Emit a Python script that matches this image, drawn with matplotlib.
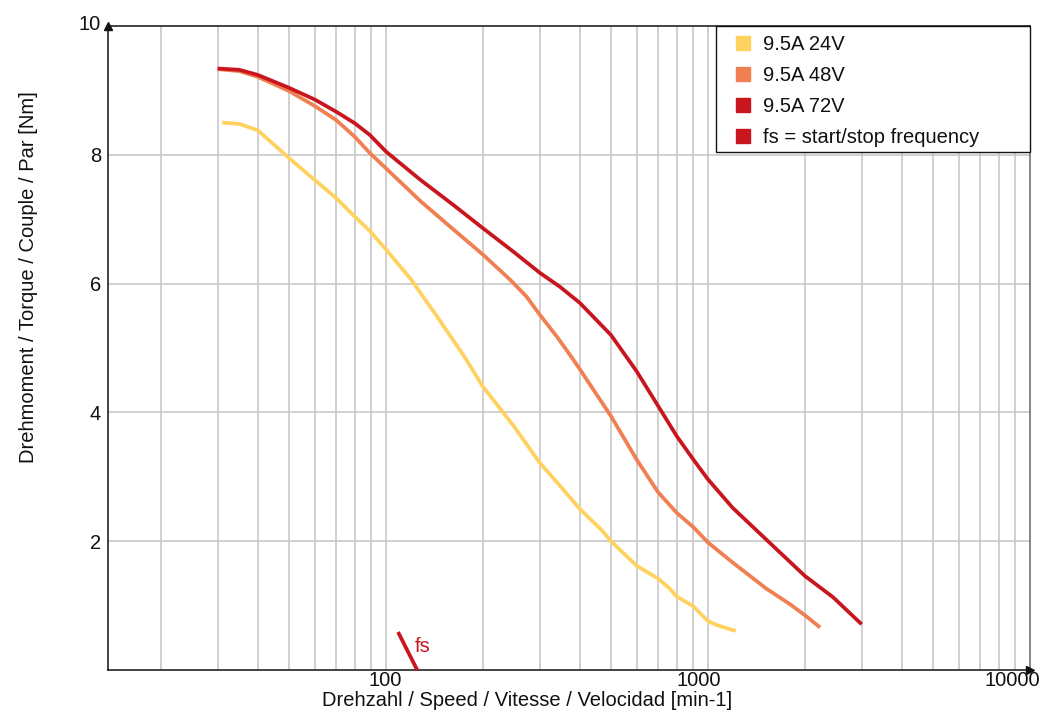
import matplotlib
matplotlib.use("Agg")
import matplotlib.pyplot as plt
from matplotlib.lines import Line2D
from matplotlib.patches import Rectangle
from matplotlib.transforms import ScaledTranslation
from matplotlib.ticker import FixedLocator, NullLocator, FixedFormatter

plt.rcParams['font.family'] = ['Liberation Sans', 'DejaVu Sans']

# Torque curves: speed [min-1] vs torque [Nm]
speed_24v = [31, 35, 40, 50, 60, 70, 80, 89, 100, 119, 144, 176, 200, 250, 300,
             347, 400, 468, 500, 600, 700, 762, 800, 900, 1000, 1062, 1192, 1220]
torque_24v = [8.5, 8.48, 8.38, 7.95, 7.61, 7.33, 7.04, 6.82, 6.53, 6.08, 5.49, 4.85,
              4.4, 3.78, 3.22, 2.86, 2.5, 2.17, 2.0, 1.62, 1.42, 1.26, 1.14, 0.99,
              0.76, 0.7, 0.62, 0.61]

speed_48v = [30, 35, 40, 50, 60, 70, 80, 89, 100, 128, 162, 200, 243, 273, 300,
             339, 378, 400, 500, 600, 700, 800, 900, 1000, 1192, 1521, 1799, 2000,
             2230]
torque_48v = [9.33, 9.3, 9.21, 8.99, 8.76, 8.54, 8.28, 8.03, 7.79, 7.28, 6.84, 6.45,
              6.06, 5.8, 5.52, 5.18, 4.85, 4.67, 3.94, 3.27, 2.76, 2.44, 2.22, 1.98,
              1.67, 1.26, 1.02, 0.85, 0.66]

speed_72v = [30, 35, 40, 50, 60, 70, 80, 89, 100, 128, 162, 200, 248, 300, 347,
             400, 500, 600, 700, 800, 900, 1000, 1192, 1521, 2000, 2446, 3000]
torque_72v = [9.34, 9.32, 9.24, 9.04, 8.86, 8.67, 8.49, 8.31, 8.05, 7.61, 7.22, 6.86,
              6.5, 6.17, 5.95, 5.7, 5.2, 4.64, 4.1, 3.63, 3.27, 2.96, 2.52, 2.02,
              1.46, 1.13, 0.71]

# start/stop frequency marker
fs_speed = [109, 125]
fs_torque = [0.59, 0.0]

labels = ["9.5A 24V", "9.5A 48V", "9.5A 72V", "fs = start/stop frequency"]
colors = ["#FFD25F", "#F07F52", "#C9161E", "#C9161E"]

x_ticks = [100, 1000, 10000]
x_ticklabels = ["100", "1000", "10000"]
y_ticks = [2, 4, 6, 8, 10]
y_ticklabels = ["2", "4", "6", "8", "10"]

FS = 14.5
INK = "#111111"

fig = plt.figure(figsize=(10.48, 7.12), dpi=100)
ax = fig.add_axes([108 / 1048, 1 - 670 / 712, (1030 - 108) / 1048, (670 - 26) / 712])

ax.set_xscale("log")
ax.set_xlim(13.7, 10000)
ax.set_ylim(0, 10)

# grid lines
minor_x = [m * 10 ** e for e in (1, 2, 3) for m in range(1, 10) if m * 10 ** e > 14]
for xv in minor_x:
    ax.axvline(xv, color="#c4c4c4", lw=1.1, zorder=0)
for yv in [2, 4, 6, 8]:
    ax.axhline(yv, color="#c4c4c4", lw=1.1, zorder=0)

line_kw = dict(lw=2.7, solid_capstyle="butt", solid_joinstyle="round")
ax.plot(speed_24v, torque_24v, color=colors[0], zorder=3, **line_kw)
ax.plot(speed_48v, torque_48v, color=colors[1], zorder=3, **line_kw)
ax.plot(speed_72v, torque_72v, color=colors[2], zorder=4, **line_kw)
ax.plot(fs_speed, fs_torque, color=colors[3], clip_on=False, zorder=4, **line_kw)
ax.text(123, 0.36, "fs", color=colors[3], fontsize=FS, va="center", ha="left")

ax.xaxis.set_major_locator(FixedLocator(x_ticks))
ax.xaxis.set_major_formatter(FixedFormatter(x_ticklabels))
ax.xaxis.set_minor_locator(NullLocator())
ax.yaxis.set_major_locator(FixedLocator(y_ticks))
ax.yaxis.set_major_formatter(FixedFormatter(y_ticklabels))
ax.tick_params(axis="both", length=0, labelsize=FS, colors=INK)
ax.tick_params(axis="x", pad=1)
ax.tick_params(axis="y", pad=5)

# nudge the x tick labels leftwards (pixels)
x_shift = {"100": -1, "1000": -9, "10000": -18}
fig.canvas.draw()
for lbl in ax.get_xticklabels():
    dx = x_shift.get(lbl.get_text(), 0)
    lbl.set_transform(lbl.get_transform()
                      + ScaledTranslation(dx / 100, 0, fig.dpi_scale_trans))
for lbl in ax.get_yticklabels():
    if lbl.get_text() == "10":
        lbl.set_transform(lbl.get_transform()
                          + ScaledTranslation(0, 4 / 100, fig.dpi_scale_trans))

for side in ["left", "bottom", "top"]:
    ax.spines[side].set_color(INK)
    ax.spines[side].set_linewidth(1.1)
ax.spines["right"].set_color("#666666")
ax.spines["right"].set_linewidth(1.1)

# axis arrows
ax.plot([0], [1.0], marker="^", color=INK, markersize=6,
        transform=ax.transAxes, clip_on=False, zorder=6)
ax.plot([1.0], [0], marker=">", color=INK, markersize=6,
        transform=ax.transAxes, clip_on=False, zorder=6)

ax.set_xlabel("Drehzahl / Speed / Vitesse / Velocidad [min-1]", fontsize=FS, color=INK)
ax.set_ylabel("Drehmoment / Torque / Couple / Par [Nm]", fontsize=FS, color=INK)
ax.xaxis.set_label_coords(0.455, -0.0325)
ax.yaxis.set_label_coords(-0.076, 0.61)

# legend box spanning to the right edge of the plot
box_left = (716 - 108) / 922
box_bottom = (670 - 152) / 644
ax.add_patch(Rectangle((box_left, box_bottom), 1 - box_left, 1 - box_bottom,
                       transform=ax.transAxes, facecolor="white", edgecolor=INK,
                       linewidth=1.0, zorder=8, clip_on=False))

handles = [Line2D([], [], marker="s", linestyle="none", markersize=9.5,
                  markerfacecolor=c, markeredgecolor=c) for c in colors]
leg = ax.legend(handles, labels, loc="upper left", bbox_to_anchor=(box_left, 1.0),
                borderaxespad=0, fontsize=FS, frameon=False,
                labelspacing=0.6, handletextpad=0.1, borderpad=0.45,
                handlelength=1.8)
for t in leg.get_texts():
    t.set_color(INK)
leg.set_zorder(10)

fig.savefig("out.png", dpi=100)
